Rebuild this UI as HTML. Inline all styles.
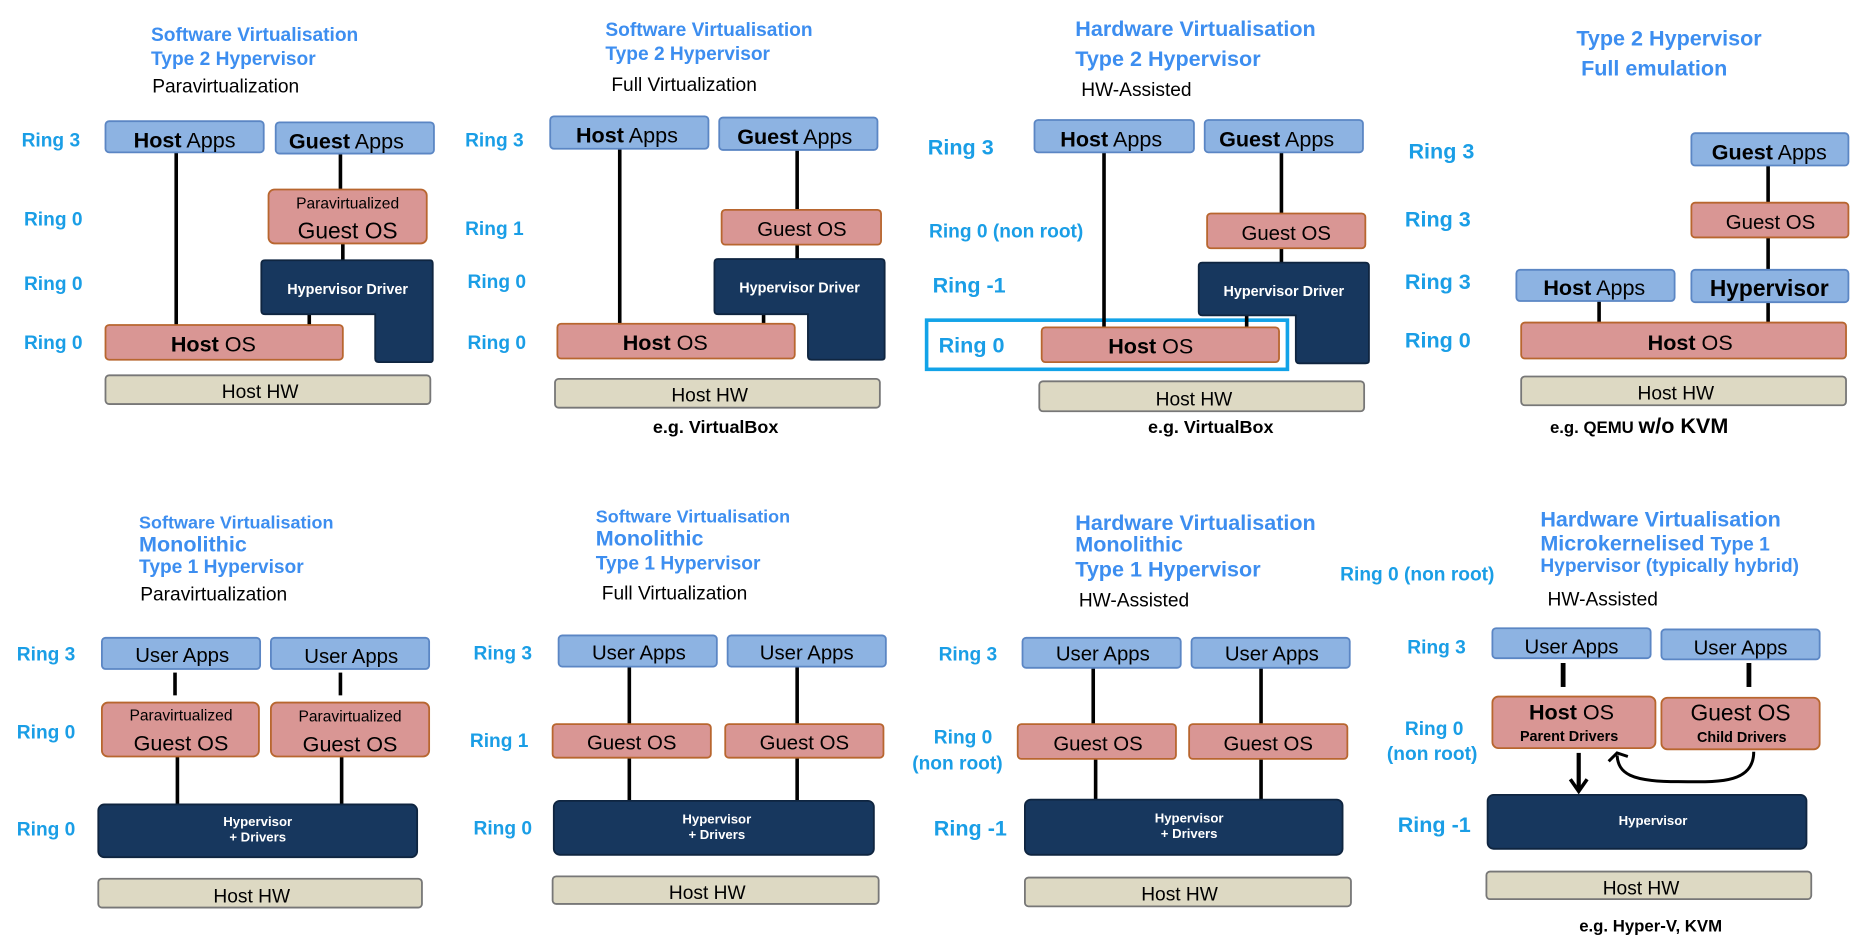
<!DOCTYPE html>
<html><head><meta charset="utf-8"><style>
html,body{margin:0;padding:0;background:#fff;}
svg{display:block;}
text{font-family:"Liberation Sans",sans-serif;}
.t{fill:#3d8ef0;font-weight:bold;}
.r{fill:#1a9ee6;font-weight:bold;}
.k{fill:#000;}
.ba{fill:#8db3e2;stroke:#5b86c4;stroke-width:1.5;}
.bp{fill:#d99694;stroke:#b8662f;stroke-width:1.5;}
.bn{fill:#17375e;stroke:#0f2540;stroke-width:1.5;}
.bh{fill:#ddd9c3;stroke:#777;stroke-width:1.5;}
.ln{stroke:#000;stroke-width:3;}
.w{fill:#fff;font-weight:bold;}
</style></head><body>
<svg width="1870" height="952" viewBox="0 0 1560 794" xmlns="http://www.w3.org/2000/svg">
<rect width="1560" height="794" fill="#fff"/>
<!-- Panel 1 -->
<text class="t" x="126" y="34" font-size="16">Software Virtualisation</text>
<text class="t" x="126" y="54" font-size="16">Type 2 Hypervisor</text>
<text class="k" x="127" y="77" font-size="16">Paravirtualization</text>
<text class="r" x="18" y="122" font-size="16">Ring 3</text>
<text class="r" x="20" y="188" font-size="16">Ring 0</text>
<text class="r" x="20" y="242" font-size="16">Ring 0</text>
<text class="r" x="20" y="291" font-size="16">Ring 0</text>
<line class="ln" x1="147" y1="127" x2="147" y2="272"/>
<line class="ln" x1="284" y1="128" x2="284" y2="158"/>
<line class="ln" x1="286" y1="203" x2="286" y2="218"/>
<line class="ln" x1="258" y1="260" x2="258" y2="272"/>
<rect class="ba" x="88" y="101" width="132" height="26" rx="3"/>
<text x="154" y="123" font-size="18" text-anchor="middle"><tspan font-weight="bold">Host</tspan> Apps</text>
<rect class="ba" x="230" y="102" width="132" height="26" rx="3"/>
<text x="289" y="124" font-size="18" text-anchor="middle"><tspan font-weight="bold">Guest</tspan> Apps</text>
<rect class="bp" x="224" y="158" width="132" height="45" rx="5"/>
<text x="290" y="174" font-size="13" text-anchor="middle">Paravirtualized</text>
<text x="290" y="199" font-size="19" text-anchor="middle">Guest OS</text>
<path class="bn" d="M221,217 H359 Q361,217 361,220 V300 Q361,302 359,302 H316 Q313,302 313,299 V262 H221 Q218,262 218,259 V220 Q218,217 221,217 Z"/>
<text class="w" x="290" y="245" font-size="12" text-anchor="middle">Hypervisor Driver</text>
<rect class="bp" x="88" y="271" width="198" height="29" rx="3"/>
<text x="178" y="293" font-size="18" text-anchor="middle"><tspan font-weight="bold">Host</tspan>  OS</text>
<rect class="bh" x="88" y="313" width="271" height="24" rx="3"/>
<text x="217" y="332" font-size="16" text-anchor="middle">Host HW</text>
<!-- Panel 2 -->
<text class="t" x="505" y="30" font-size="16">Software Virtualisation</text>
<text class="t" x="505" y="50" font-size="16">Type 2 Hypervisor</text>
<text class="k" x="510" y="76" font-size="16">Full Virtualization</text>
<text class="r" x="388" y="122" font-size="16">Ring 3</text>
<text class="r" x="388" y="196" font-size="16">Ring 1</text>
<text class="r" x="390" y="240" font-size="16">Ring 0</text>
<text class="r" x="390" y="291" font-size="16">Ring 0</text>
<line class="ln" x1="517" y1="124" x2="517" y2="270"/>
<line class="ln" x1="665" y1="125" x2="665" y2="175"/>
<line class="ln" x1="665" y1="204" x2="665" y2="217"/>
<line class="ln" x1="637" y1="260" x2="637" y2="270"/>
<rect class="ba" x="459" y="97" width="132" height="27" rx="3"/>
<text x="523" y="119" font-size="18" text-anchor="middle"><tspan font-weight="bold">Host</tspan> Apps</text>
<rect class="ba" x="600" y="98" width="132" height="27" rx="3"/>
<text x="663" y="120" font-size="18" text-anchor="middle"><tspan font-weight="bold">Guest</tspan> Apps</text>
<rect class="bp" x="602" y="175" width="133" height="29" rx="3"/>
<text x="669" y="197" font-size="17" text-anchor="middle">Guest OS</text>
<path class="bn" d="M599,216 H735 Q738,216 738,219 V298 Q738,300 735,300 H677 Q674,300 674,297 V262 H599 Q596,262 596,259 V219 Q596,216 599,216 Z"/>
<text class="w" x="667" y="244" font-size="12" text-anchor="middle">Hypervisor Driver</text>
<rect class="bp" x="465" y="270" width="198" height="29" rx="3"/>
<text x="555" y="292" font-size="18" text-anchor="middle"><tspan font-weight="bold">Host</tspan>  OS</text>
<rect class="bh" x="463" y="316" width="271" height="24" rx="3"/>
<text x="592" y="335" font-size="16" text-anchor="middle">Host HW</text>
<text x="597" y="361" font-size="15" font-weight="bold" text-anchor="middle">e.g. VirtualBox</text>
<!-- Panel 3 -->
<text class="t" x="897" y="30" font-size="18">Hardware Virtualisation</text>
<text class="t" x="897" y="55" font-size="18">Type 2 Hypervisor</text>
<text class="k" x="902" y="80" font-size="16">HW-Assisted</text>
<text class="r" x="774" y="129" font-size="18">Ring 3</text>
<text class="r" x="775" y="198" font-size="16">Ring 0 (non root)</text>
<text class="r" x="778" y="244" font-size="18">Ring -1</text>
<rect x="773" y="267" width="301" height="41" fill="none" stroke="#12a3e8" stroke-width="3"/>
<text class="r" x="783" y="294" font-size="18">Ring 0</text>
<line class="ln" x1="921" y1="127" x2="921" y2="273"/>
<line class="ln" x1="1069" y1="127" x2="1069" y2="178"/>
<line class="ln" x1="1069" y1="207" x2="1069" y2="220"/>
<line class="ln" x1="1040" y1="262" x2="1040" y2="273"/>
<rect class="ba" x="863" y="100" width="133" height="27" rx="3"/>
<text x="927" y="122" font-size="18" text-anchor="middle"><tspan font-weight="bold">Host</tspan> Apps</text>
<rect class="ba" x="1005" y="100" width="132" height="27" rx="3"/>
<text x="1065" y="122" font-size="18" text-anchor="middle"><tspan font-weight="bold">Guest</tspan> Apps</text>
<rect class="bp" x="1007" y="178" width="132" height="29" rx="3"/>
<text x="1073" y="200" font-size="17" text-anchor="middle">Guest OS</text>
<path class="bn" d="M1003,219 H1139 Q1142,219 1142,222 V301 Q1142,303 1139,303 H1084 Q1081,303 1081,300 V263 H1003 Q1000,263 1000,260 V222 Q1000,219 1003,219 Z"/>
<text class="w" x="1071" y="247" font-size="12" text-anchor="middle">Hypervisor Driver</text>
<rect class="bp" x="869" y="273" width="198" height="29" rx="3"/>
<text x="960" y="295" font-size="18" text-anchor="middle"><tspan font-weight="bold">Host</tspan>  OS</text>
<rect class="bh" x="867" y="318" width="271" height="25" rx="3"/>
<text x="996" y="338" font-size="16" text-anchor="middle">Host HW</text>
<text x="1010" y="361" font-size="15" font-weight="bold" text-anchor="middle">e.g. VirtualBox</text>
<!-- Panel 4 -->
<text class="t" x="1315" y="38" font-size="18">Type 2 Hypervisor</text>
<text class="t" x="1319" y="63" font-size="18">Full emulation</text>
<text class="r" x="1175" y="132" font-size="18">Ring 3</text>
<text class="r" x="1172" y="189" font-size="18">Ring 3</text>
<text class="r" x="1172" y="241" font-size="18">Ring 3</text>
<text class="r" x="1172" y="290" font-size="18">Ring 0</text>
<line class="ln" x1="1475" y1="138" x2="1475" y2="169"/>
<line class="ln" x1="1475" y1="198" x2="1475" y2="225"/>
<line class="ln" x1="1334" y1="251" x2="1334" y2="269"/>
<line class="ln" x1="1475" y1="252" x2="1475" y2="269"/>
<rect class="ba" x="1411" y="111" width="131" height="27" rx="3"/>
<text x="1476" y="133" font-size="18" text-anchor="middle"><tspan font-weight="bold">Guest</tspan> Apps</text>
<rect class="bp" x="1411" y="169" width="131" height="29" rx="3"/>
<text x="1477" y="191" font-size="17" text-anchor="middle">Guest OS</text>
<rect class="ba" x="1265" y="225" width="132" height="26" rx="3"/>
<text x="1330" y="246" font-size="18" text-anchor="middle"><tspan font-weight="bold">Host</tspan> Apps</text>
<rect class="ba" x="1411" y="225" width="131" height="27" rx="3"/>
<text x="1476" y="247" font-size="19" font-weight="bold" text-anchor="middle">Hypervisor</text>
<rect class="bp" x="1269" y="269" width="271" height="30" rx="3"/>
<text x="1410" y="292" font-size="18" text-anchor="middle"><tspan font-weight="bold">Host</tspan>  OS</text>
<rect class="bh" x="1269" y="314" width="271" height="24" rx="3"/>
<text x="1398" y="333" font-size="16" text-anchor="middle">Host HW</text>
<text x="1293" y="361" font-size="14" font-weight="bold">e.g. QEMU <tspan font-size="18">w/o KVM</tspan></text>
<!-- Panel 5 -->
<text class="t" x="116" y="441" font-size="15">Software Virtualisation</text>
<text class="t" x="116" y="460" font-size="18">Monolithic</text>
<text class="t" x="116" y="478" font-size="16">Type 1 Hypervisor</text>
<text class="k" x="117" y="501" font-size="16">Paravirtualization</text>
<text class="r" x="14" y="551" font-size="16">Ring 3</text>
<text class="r" x="14" y="616" font-size="16">Ring 0</text>
<text class="r" x="14" y="697" font-size="16">Ring 0</text>
<line class="ln" x1="146" y1="561" x2="146" y2="580"/>
<line class="ln" x1="284" y1="561" x2="284" y2="580"/>
<line class="ln" x1="148" y1="631" x2="148" y2="671"/>
<line class="ln" x1="285" y1="631" x2="285" y2="671"/>
<rect class="ba" x="85" y="532" width="132" height="26" rx="3"/>
<text x="152" y="552" font-size="17" text-anchor="middle">User Apps</text>
<rect class="ba" x="226" y="532" width="132" height="26" rx="3"/>
<text x="293" y="553" font-size="17" text-anchor="middle">User Apps</text>
<rect class="bp" x="85" y="586" width="131" height="45" rx="5"/>
<text x="151" y="601" font-size="13" text-anchor="middle">Paravirtualized</text>
<text x="151" y="626" font-size="18" text-anchor="middle">Guest OS</text>
<rect class="bp" x="226" y="586" width="132" height="45" rx="5"/>
<text x="292" y="602" font-size="13" text-anchor="middle">Paravirtualized</text>
<text x="292" y="627" font-size="18" text-anchor="middle">Guest OS</text>
<rect class="bn" x="82" y="671" width="266" height="44" rx="5"/>
<text class="w" x="215" y="689" font-size="11" text-anchor="middle">Hypervisor</text>
<text class="w" x="215" y="702" font-size="11" text-anchor="middle">+ Drivers</text>
<rect class="bh" x="82" y="733" width="270" height="24" rx="3"/>
<text x="210" y="753" font-size="16" text-anchor="middle">Host HW</text>
<!-- Panel 6 -->
<text class="t" x="497" y="436" font-size="15">Software Virtualisation</text>
<text class="t" x="497" y="455" font-size="18">Monolithic</text>
<text class="t" x="497" y="475" font-size="16">Type 1 Hypervisor</text>
<text class="k" x="502" y="500" font-size="16">Full Virtualization</text>
<text class="r" x="395" y="550" font-size="16">Ring 3</text>
<text class="r" x="392" y="623" font-size="16">Ring 1</text>
<text class="r" x="395" y="696" font-size="16">Ring 0</text>
<line class="ln" x1="525" y1="556" x2="525" y2="604"/>
<line class="ln" x1="665" y1="556" x2="665" y2="604"/>
<line class="ln" x1="525" y1="632" x2="525" y2="668"/>
<line class="ln" x1="665" y1="632" x2="665" y2="668"/>
<rect class="ba" x="466" y="530" width="132" height="26" rx="3"/>
<text x="533" y="550" font-size="17" text-anchor="middle">User Apps</text>
<rect class="ba" x="607" y="530" width="132" height="26" rx="3"/>
<text x="673" y="550" font-size="17" text-anchor="middle">User Apps</text>
<rect class="bp" x="461" y="604" width="132" height="28" rx="3"/>
<text x="527" y="625" font-size="17" text-anchor="middle">Guest OS</text>
<rect class="bp" x="605" y="604" width="132" height="28" rx="3"/>
<text x="671" y="625" font-size="17" text-anchor="middle">Guest OS</text>
<rect class="bn" x="462" y="668" width="267" height="45" rx="5"/>
<text class="w" x="598" y="687" font-size="11" text-anchor="middle">Hypervisor</text>
<text class="w" x="598" y="700" font-size="11" text-anchor="middle">+ Drivers</text>
<rect class="bh" x="461" y="731" width="272" height="23" rx="3"/>
<text x="590" y="750" font-size="16" text-anchor="middle">Host HW</text>
<!-- Panel 7 -->
<text class="t" x="897" y="442" font-size="18">Hardware Virtualisation</text>
<text class="t" x="897" y="460" font-size="18">Monolithic</text>
<text class="t" x="897" y="481" font-size="18">Type 1 Hypervisor</text>
<text class="k" x="900" y="506" font-size="16">HW-Assisted</text>
<text class="r" x="783" y="551" font-size="16">Ring 3</text>
<text class="r" x="779" y="620" font-size="16">Ring 0</text>
<text class="r" x="761" y="642" font-size="16">(non root)</text>
<text class="r" x="779" y="697" font-size="18">Ring -1</text>
<line class="ln" x1="912" y1="557" x2="912" y2="604"/>
<line class="ln" x1="1052" y1="557" x2="1052" y2="604"/>
<line class="ln" x1="914" y1="633" x2="914" y2="667"/>
<line class="ln" x1="1052" y1="633" x2="1052" y2="667"/>
<rect class="ba" x="853" y="532" width="132" height="25" rx="3"/>
<text x="920" y="551" font-size="17" text-anchor="middle">User Apps</text>
<rect class="ba" x="994" y="532" width="132" height="25" rx="3"/>
<text x="1061" y="551" font-size="17" text-anchor="middle">User Apps</text>
<rect class="bp" x="849" y="604" width="132" height="29" rx="3"/>
<text x="916" y="626" font-size="17" text-anchor="middle">Guest OS</text>
<rect class="bp" x="992" y="604" width="132" height="29" rx="3"/>
<text x="1058" y="626" font-size="17" text-anchor="middle">Guest OS</text>
<rect class="bn" x="855" y="667" width="265" height="46" rx="5"/>
<text class="w" x="992" y="686" font-size="11" text-anchor="middle">Hypervisor</text>
<text class="w" x="992" y="699" font-size="11" text-anchor="middle">+ Drivers</text>
<rect class="bh" x="855" y="732" width="272" height="24" rx="3"/>
<text x="984" y="751" font-size="16" text-anchor="middle">Host HW</text>
<!-- Panel 8 -->
<text class="r" x="1118" y="484" font-size="16">Ring 0 (non root)</text>
<text class="t" x="1285" y="439" font-size="18">Hardware Virtualisation</text>
<text class="t" x="1285" y="459" font-size="18">Microkernelised <tspan font-size="16">Type 1</tspan></text>
<text class="t" x="1285" y="477" font-size="16">Hypervisor (typically hybrid)</text>
<text class="k" x="1291" y="505" font-size="16">HW-Assisted</text>
<text class="r" x="1174" y="545" font-size="16">Ring 3</text>
<text class="r" x="1172" y="613" font-size="16">Ring 0</text>
<text class="r" x="1157" y="634" font-size="16">(non root)</text>
<text class="r" x="1166" y="694" font-size="18">Ring -1</text>
<line x1="1304" y1="553" x2="1304" y2="573" stroke="#000" stroke-width="4"/>
<line x1="1459" y1="553" x2="1459" y2="573" stroke="#000" stroke-width="4"/>
<rect class="ba" x="1245" y="524" width="132" height="25" rx="3"/>
<text x="1311" y="545" font-size="17" text-anchor="middle">User Apps</text>
<rect class="ba" x="1386" y="525" width="132" height="25" rx="3"/>
<text x="1452" y="546" font-size="17" text-anchor="middle">User Apps</text>
<rect class="bp" x="1245" y="581" width="136" height="43" rx="5"/>
<text x="1311" y="600" font-size="18" text-anchor="middle"><tspan font-weight="bold">Host</tspan>  OS</text>
<text x="1309" y="618" font-size="12" font-weight="bold" text-anchor="middle">Parent Drivers</text>
<rect class="bp" x="1386" y="582" width="132" height="43" rx="5"/>
<text x="1452" y="601" font-size="19" text-anchor="middle">Guest OS</text>
<text x="1453" y="619" font-size="12" font-weight="bold" text-anchor="middle">Child Drivers</text>
<line x1="1317" y1="628" x2="1317" y2="658" stroke="#000" stroke-width="3.5"/>
<path d="M1310,650 L1317,660 L1324,650" fill="none" stroke="#000" stroke-width="3"/>
<path d="M1463,627 C1463,655 1430,652 1400,652 C1360,652 1350,645 1349,630" fill="none" stroke="#000" stroke-width="2.5"/>
<path d="M1342,635 L1349,628 L1358,631" fill="none" stroke="#000" stroke-width="2.5"/>
<rect class="bn" x="1241" y="663" width="266" height="45" rx="5"/>
<text class="w" x="1379" y="688" font-size="11" text-anchor="middle">Hypervisor</text>
<rect class="bh" x="1240" y="727" width="271" height="23" rx="3"/>
<text x="1369" y="746" font-size="16" text-anchor="middle">Host HW</text>
<text x="1377" y="777" font-size="14" font-weight="bold" text-anchor="middle">e.g. Hyper-V, KVM</text>
</svg>
</body></html>
